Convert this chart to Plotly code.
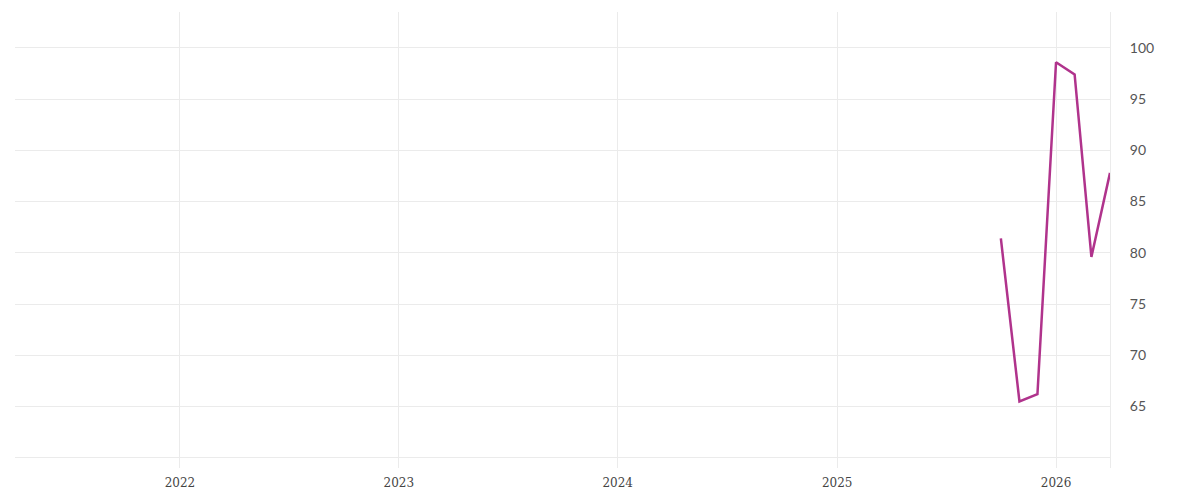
import plotly.graph_objects as go

# monthly index values
months = ["2025-10-01", "2025-11-01", "2025-12-01", "2026-01-01",
          "2026-02-01", "2026-03-01", "2026-04-01"]
values = [81.4, 65.5, 66.2, 98.6, 97.4, 79.6, 87.8]

y_ticks = [60, 65, 70, 75, 80, 85, 90, 95, 100]
y_labels = ["", "65", "70", "75", "80", "85", "90", "95", "100"]

fig = go.Figure()
fig.add_trace(go.Scatter(
    x=months, y=values, mode="lines",
    line=dict(color="#b0338c", width=2.5),
    hoverinfo="x+y", showlegend=False,
))

fig.update_layout(
    width=1200, height=500,
    margin=dict(l=7, r=98, t=4, b=40),
    paper_bgcolor="white", plot_bgcolor="white",
)
fig.update_xaxes(
    range=["2021-04-01", "2026-04-01"],
    dtick="M12", tick0="2022-01-01", tickformat="%Y",
    showgrid=True, gridcolor="#ebebeb", gridwidth=1,
    zeroline=False, showline=False, ticks="", ticklabelstandoff=6,
    tickfont=dict(family="DejaVu Serif", size=12, color="#444"),
)
fig.update_yaxes(
    side="right", range=[59.0, 103.5],
    tickvals=y_ticks, ticktext=y_labels,
    showgrid=True, gridcolor="#ebebeb", gridwidth=1,
    zeroline=False, showline=True, linecolor="#ebebeb", linewidth=1,
    ticks="", ticklabelstandoff=16,
    tickfont=dict(family="Lato", size=14, color="#555"),
)

fig.write_html("out.html")
